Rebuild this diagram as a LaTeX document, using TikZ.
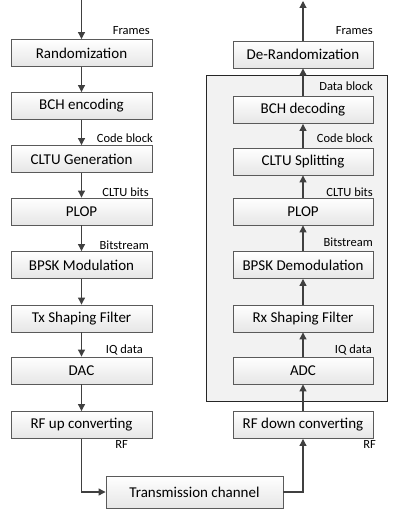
\documentclass[tikz,border=0pt]{standalone}
\usepackage{fontspec}
\setmainfont{Carlito}
\usetikzlibrary{arrows.meta,positioning}
\definecolor{boxline}{HTML}{5A5A5A}
\definecolor{wire}{HTML}{404040}
\definecolor{panelfill}{HTML}{F2F2F2}
\definecolor{boxbottom}{HTML}{E6E6E6}
\tikzset{
  blockbox/.style={draw=boxline, line width=0.9pt, top color=white, bottom color=boxbottom,
    minimum width=141pt, minimum height=27pt, inner sep=0pt, font=\fontsize{15}{17}\selectfont},
  flow/.style={draw=wire, line width=1.1pt, -{Triangle[length=7pt,width=7pt]}},
  tag/.style={inner sep=0pt, anchor=base east, font=\fontsize{12.5}{14}\selectfont, text=black},
  panel/.style={draw=black!85, line width=0.9pt, fill=panelfill}
}
\begin{document}
\begin{tikzpicture}[x=1pt,y=-1pt]
\useasboundingbox (0,0) rectangle (394,511);

% receiver processing panel
\draw[panel] (206,75) rectangle (387,401);

% transmitter chain
\node[blockbox] (rand) at (81.5,53)  {Randomization};
\node[blockbox] (bche) at (81.5,106) {BCH encoding};
\node[blockbox] (cltug) at (81.5,159) {CLTU Generation};
\node[blockbox] (plopt) at (81.5,211.5) {PLOP};
\node[blockbox] (bpskm) at (81.5,265) {BPSK Modulation};
\node[blockbox] (txsf) at (81.5,318.5) {Tx Shaping Filter};
\node[blockbox] (dac) at (81.5,370.5) {DAC};
\node[blockbox] (rfup) at (81.5,425) {RF up converting};

% receiver chain
\node[blockbox, minimum width=140pt] (derand) at (303,54.5) {De-Randomization};
\node[blockbox, minimum width=140pt] (bchd) at (303,110) {BCH decoding};
\node[blockbox, minimum width=140pt] (cltus) at (303,161.5) {CLTU Splitting};
\node[blockbox, minimum width=140pt] (plopr) at (303,211.5) {PLOP};
\node[blockbox, minimum width=140pt] (bpskd) at (303,265) {BPSK Demodulation};
\node[blockbox, minimum width=140pt] (rxsf) at (303,318.5) {Rx Shaping Filter};
\node[blockbox, minimum width=140pt] (adc) at (303,370.5) {ADC};
\node[blockbox, minimum width=140pt] (rfdown) at (303,425) {RF down converting};

% channel
\node[blockbox, minimum width=177pt, minimum height=32pt] (chan) at (194.5,492) {Transmission channel};

% free ends
\coordinate (txin) at (81.5,0);
\coordinate (rxout) at (303,1);

% transmitter connectors
\draw[flow] (txin) -- (rand);
\draw[flow] (rand) -- (bche);
\draw[flow] (bche) -- (cltug);
\draw[flow] (cltug) -- (plopt);
\draw[flow] (plopt) -- (bpskm);
\draw[flow] (bpskm) -- (txsf);
\draw[flow] (txsf) -- (dac);
\draw[flow] (dac) -- (rfup);
\draw[flow] (rfup.south) |- (chan.west);

% receiver connectors
\draw[flow] (chan.east) -| (rfdown.south);
\draw[flow] (rfdown) -- (adc);
\draw[flow] (adc) -- (rxsf);
\draw[flow] (rxsf) -- (bpskd);
\draw[flow] (bpskd) -- (plopr);
\draw[flow] (plopr) -- (cltus);
\draw[flow] (cltus) -- (bchd);
\draw[flow] (bchd) -- (derand);
\draw[flow] (derand) -- (rxout);

% transmitter signal labels
\node[tag] at (150,35) {Frames};
\node[tag] at (153,142) {Code block};
\node[tag] at (149,196) {CLTU bits};
\node[tag] at (149,249) {Bitstream};
\node[tag] at (143,353) {IQ data};
\node[tag] at (128,448) {RF};

% receiver signal labels
\node[tag] at (373,35) {Frames};
\node[tag] at (373,90) {Data block};
\node[tag] at (373,142) {Code block};
\node[tag] at (373,196) {CLTU bits};
\node[tag] at (373,246) {Bitstream};
\node[tag] at (372,353) {IQ data};
\node[tag] at (376,448) {RF};
\end{tikzpicture}
\end{document}
